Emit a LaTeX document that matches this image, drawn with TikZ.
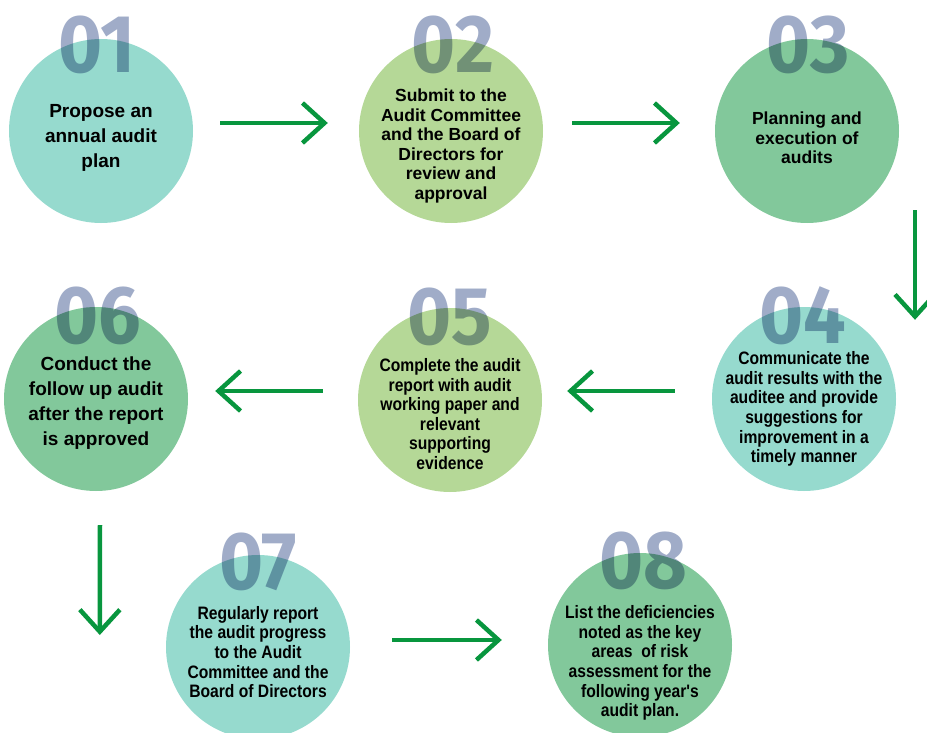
\documentclass[tikz,border=0pt]{standalone}
\usepackage{fontspec}
\setmainfont{Liberation Sans}
\newfontfamily\narrowfont[FakeStretch=0.87]{Liberation Sans}
\newfontfamily\numfont[FakeStretch=0.92]{Fira Sans}
\usetikzlibrary{arrows.meta}

\definecolor{stageteal}{RGB}{150,218,206}
\definecolor{stagelight}{RGB}{181,216,151}
\definecolor{stagegreen}{RGB}{130,200,155}
\definecolor{numgray}{RGB}{160,172,200}
\definecolor{flowgreen}{RGB}{8,150,62}

\tikzset{
  stage/.style={circle, minimum size=184pt, inner sep=0pt, draw=none},
  num/.style={font=\numfont\bfseries\fontsize{82}{82}\selectfont, text=numgray, anchor=base, inner sep=0pt},
  capbig/.style={align=center, inner sep=0pt, font=\bfseries\fontsize{19}{25}\selectfont},
  capmid/.style={align=center, inner sep=0pt, font=\bfseries\fontsize{17.5}{19.5}\selectfont},
  capnarrow/.style={align=center, inner sep=0pt, font=\narrowfont\bfseries\fontsize{18}{19.6}\selectfont},
  flow/.style={draw=flowgreen, line width=4.5pt, -{Straight Barb[length=22pt,width=40pt]}},
}

\begin{document}
\begin{tikzpicture}[x=1pt,y=-1pt]
\useasboundingbox (0,0) rectangle (927,733);
\clip (0,0) rectangle (927,733);

% process stages
\node[stage, fill=stageteal]  (c1) at (101,131) {};
\node[stage, fill=stagelight] (c2) at (451,131) {};
\node[stage, fill=stagegreen] (c3) at (807,131) {};
\node[stage, fill=stageteal]  (c4) at (804,399) {};
\node[stage, fill=stagelight] (c5) at (450,400) {};
\node[stage, fill=stagegreen] (c6) at (96,399) {};
\node[stage, fill=stageteal]  (c7) at (258,647) {};
\node[stage, fill=stagegreen] (c8) at (640,645) {};

% step numbers, multiplied over the circles
\begin{scope}[blend mode=multiply]
\node[num] (n1) at (97,73) {01};
\node[num] (n2) at (453,73) {02};
\node[num] (n3) at (808,73) {03};
\node[num] (n4) at (803,343) {04};
\node[num] (n5) at (450,344) {05};
\node[num] (n6) at (98,343) {06};
\node[num] (n7) at (258,589) {07};
\node[num] (n8) at (643,588) {08};
\end{scope}

% stage descriptions
\node[capbig] (t1) at (101,138) {Propose an\\annual audit\\plan};
\node[capmid] (t2) at (451,146) {Submit to the\\Audit Committee\\and the Board of\\Directors for\\review and\\approval};
\node[capmid] (t3) at (807,138) {Planning and\\execution of\\audits};
\node[capnarrow] (t4) at (804,409) {Communicate the\\audit results with the\\auditee and provide\\suggestions for\\improvement in a\\timely manner};
\node[capnarrow] (t5) at (450,414) {Complete the audit\\report with audit\\working paper and\\relevant\\supporting\\evidence};
\node[capbig] (t6) at (96,403) {Conduct the\\follow up audit\\after the report\\is approved};
\node[capnarrow] (t7) at (258,652) {Regularly report\\the audit progress\\to the Audit\\Committee and the\\Board of Directors};
\node[capnarrow] (t8) at (640,663) {List the deficiencies\\noted as the key\\areas~ of risk\\assessment for the\\following year's\\audit plan.};

% flow between stages
\draw[flow] ([shift={(27,-8)}]c1.east) -- ([shift={(-31,-8)}]c2.west);
\draw[flow] ([shift={(29,-8)}]c2.east) -- ([shift={(-35,-8)}]c3.west);
\draw[flow] ([shift={(108,-13)}]c3.south) -- ([shift={(111,13)}]c4.north);
\draw[flow] ([shift={(-37,-8)}]c4.west) -- ([shift={(25,-9)}]c5.east);
\draw[flow] ([shift={(-35,-9)}]c5.west) -- ([shift={(27,-8)}]c6.east);
\draw[flow] ([shift={(4,34)}]c6.south) -- ([shift={(-66,-12)}]c7.west);
\draw[flow] ([shift={(42,-7)}]c7.east) -- ([shift={(-46,-5)}]c8.west);
\end{tikzpicture}
\end{document}
